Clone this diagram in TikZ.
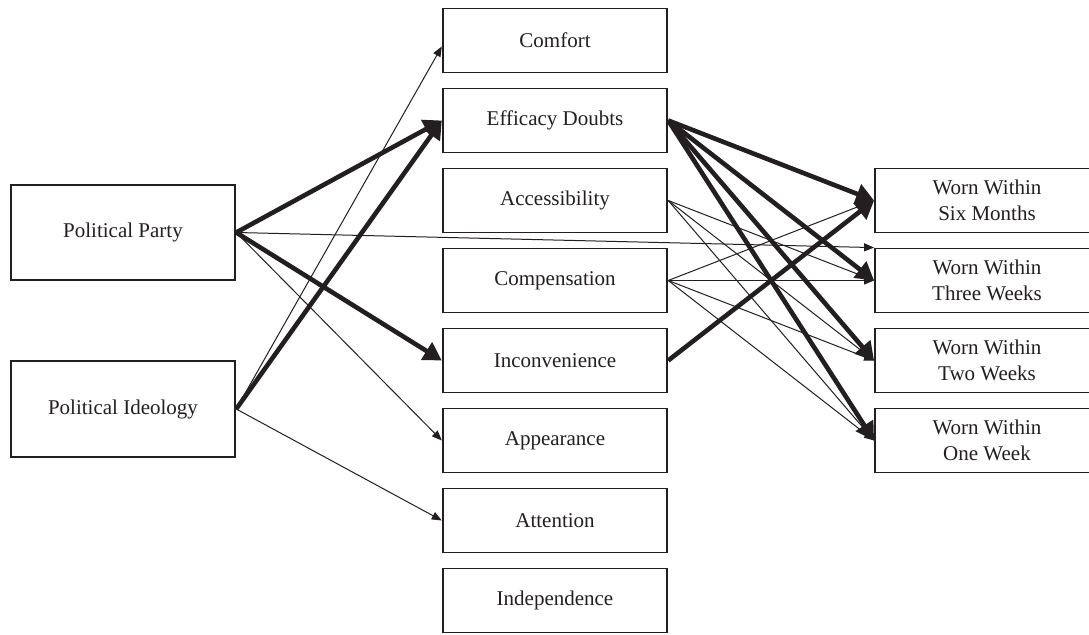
\documentclass[tikz,border=0pt]{standalone}
\usepackage{fontspec}
\setmainfont{Liberation Serif}
\usetikzlibrary{arrows.meta}
\definecolor{ink}{RGB}{35,31,32}
\begin{document}
\begin{tikzpicture}[x=0.5pt,y=-0.5pt, color=ink,
  box/.style={draw=ink, text=ink, line width=0.9pt, inner sep=0pt, align=center,
    font=\fontsize{10.5}{13.3}\selectfont},
  lbox/.style={box, minimum width=112.3pt, minimum height=47.7pt},
  mbox/.style={box, minimum width=112.3pt, minimum height=32pt},
  rbox/.style={box, minimum width=112pt, minimum height=32pt},
  thinarr/.style={draw=ink, line width=0.5pt, -{Triangle[length=5pt,width=4pt]}},
  thickarr/.style={draw=ink, line width=2.3pt, -{Triangle[length=9pt,width=10pt]}}]
\useasboundingbox (0,0) rectangle (1089,635);
\clip (0,0) rectangle (1089,635);
\fill[white] (0,0) rectangle (1089,635);

% left column
\node[lbox] (pp) at (123,232.5) {Political Party};
\node[lbox] (pi) at (123,409) {Political Ideology};

% middle column
\node[mbox] (comfort) at (555,40.5)  {Comfort};
\node[mbox] (eff)     at (555,120.5) {Efficacy Doubts};
\node[mbox] (acc)     at (555,200.5) {Accessibility};
\node[mbox] (comp)    at (555,280.5) {Compensation};
\node[mbox] (inc)     at (555,360.5) {Inconvenience};
\node[mbox] (app)     at (555,440.5) {Appearance};
\node[mbox] (att)     at (555,520.5) {Attention};
\node[mbox] (ind)     at (555,600.5) {Independence};

% right column
\node[rbox] (sm) at (987,200.5) {Worn Within\\Six Months};
\node[rbox] (tw) at (987,280.5) {Worn Within\\Three Weeks};
\node[rbox] (two) at (987,360.5) {Worn Within\\Two Weeks};
\node[rbox] (ow) at (987,440.5) {Worn Within\\One Week};

% thin arrows
\draw[thinarr] (pi.east) -- ([yshift=-3pt]comfort.west);
\draw[thinarr] (pi.east) -- (att.west);
\draw[thinarr] (pp.east) -- (app.west);
\draw[thinarr] (pp.east) -- (tw.north west);
\draw[thinarr] (acc.east) -- (tw.west);
\draw[thinarr] (acc.east) -- (two.west);
\draw[thinarr] (acc.east) -- (ow.west);
\draw[thinarr] (comp.east) -- (sm.west);
\draw[thinarr] (comp.east) -- (tw.west);
\draw[thinarr] (comp.east) -- (two.west);
\draw[thinarr] (comp.east) -- (ow.west);

% thick arrows
\draw[thickarr] (pp.east) -- (eff.west);
\draw[thickarr] (pp.east) -- (inc.west);
\draw[thickarr] (pi.east) -- (eff.west);
\draw[thickarr] (eff.east) -- (sm.west);
\draw[thickarr] (eff.east) -- (tw.west);
\draw[thickarr] (eff.east) -- (two.west);
\draw[thickarr] (eff.east) -- (ow.west);
\draw[thickarr] (inc.east) -- (sm.west);
\end{tikzpicture}
\end{document}
